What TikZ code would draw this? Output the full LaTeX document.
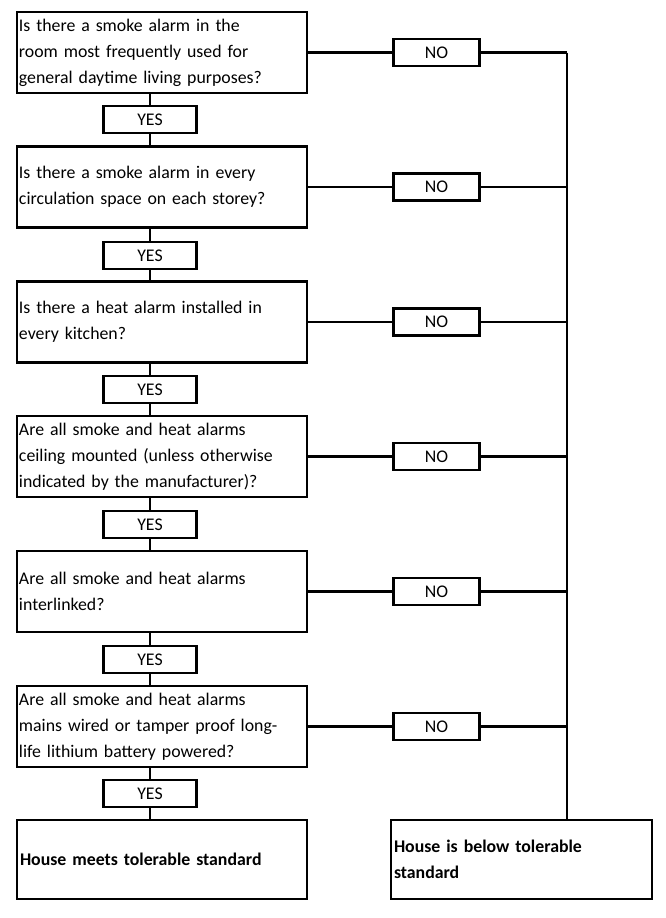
\documentclass[tikz,border=0pt]{standalone}
\usepackage{fontspec}
\setmainfont{Carlito}
\usetikzlibrary{positioning}

\begin{document}
\begin{tikzpicture}[x=1pt, y=-1pt, line width=2.2pt,
    question/.style={draw, minimum width=290pt, minimum height=81pt, text width=286pt,
        inner sep=2pt, align=left, font=\fontsize{17.8}{26}\selectfont},
    answer/.style={draw, minimum width=93pt, minimum height=27pt, inner sep=0pt,
        font=\fontsize{17.8}{20}\selectfont},
    result/.style={draw, minimum height=79pt, inner sep=3pt, align=left,
        font=\bfseries\fontsize{17.8}{26}\selectfont}]

    %% Background
    \useasboundingbox (0,0) rectangle (665,918);

    % Questions
    \node[question] (q1) at (162,52.5) {Is there a smoke alarm in the\\room most frequently used for\\general daytime living purposes?};
    \node[question] (q2) at (162,187) {Is there a smoke alarm in every\\circulation space on each storey?};
    \node[question] (q3) at (162,322) {Is there a heat alarm installed in\\every kitchen?};
    \node[question] (q4) at (162,456.5) {Are all smoke and heat alarms\\ceiling mounted (unless otherwise\\indicated by the manufacturer)?};
    \node[question] (q5) at (162,591.5) {Are all smoke and heat alarms\\interlinked?};
    \node[question] (q6) at (162,726.5) {Are all smoke and heat alarms\\mains wired or tamper proof long-\\life lithium battery powered?};

    % Results
    \node[result, minimum width=290pt, text width=284pt] (q7) at (162,859.5) {House meets tolerable standard};
    \node[result, minimum width=261pt, text width=255pt] (fail) at (521.5,859.5) {House is below tolerable\\standard\\[-4pt]};

    % Answers
    \foreach \i/\j/\y in {1/2/119.5, 2/3/255.5, 3/4/389.5, 4/5/524.5, 5/6/659.5, 6/7/793.5}
    {
    \node[answer] (yes\i) at (150,\y) {YES};
    \draw (q\i.south -| yes\i) -- (yes\i);
    \draw (yes\i) -- (yes\i |- q\j.north);
    }
    \foreach \i in {1,...,6}
    {
    \node[answer, minimum width=86pt] (no\i) at (436.5,0 |- q\i) {NO};
    \draw (q\i) -- (no\i);
    \coordinate (join\i) at (567,0 |- q\i);
    \draw (no\i) -- (join\i);
    }

    \draw (join1) -- (join1 |- fail.north);

\end{tikzpicture}
\end{document}
